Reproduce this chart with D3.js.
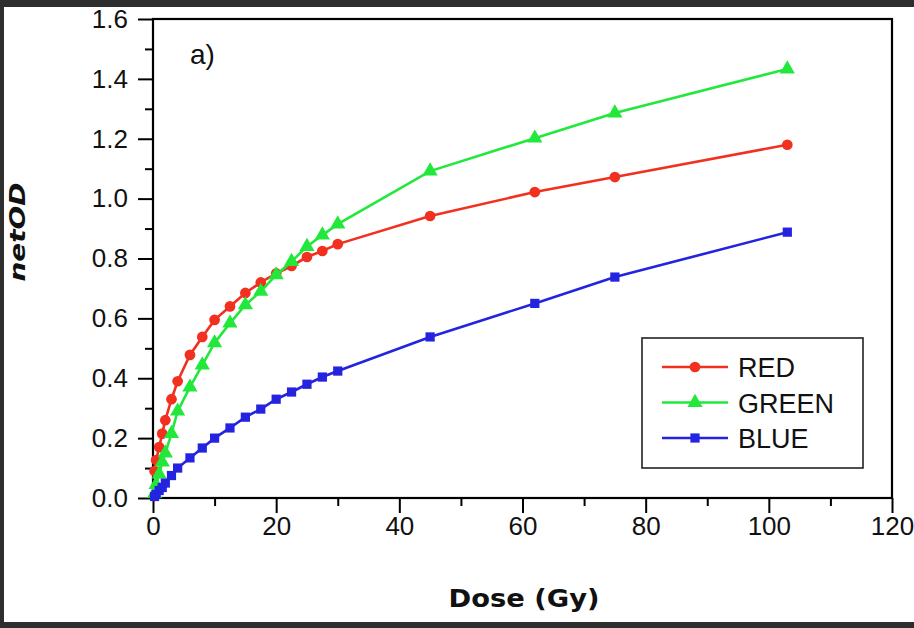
<!DOCTYPE html>
<html>
<head>
<meta charset="utf-8">
<script src="https://cdn.jsdelivr.net/npm/d3@7"></script>
<style>
  body { margin: 0; background: #2e2e2e; }
  svg { display: block; }
</style>
</head>
<body>
<svg id="chart1"></svg>
<script>
// dose values shared by the three channels
let doses = [0.25, 0.5, 1, 1.5, 2, 3, 4, 6, 8, 10, 12.5, 15, 17.5, 20, 22.5, 25, 27.5, 30, 45, 62, 75, 103];

let redValues = [0.09, 0.127, 0.17, 0.215, 0.26, 0.33, 0.39, 0.478, 0.538, 0.595, 0.64, 0.685, 0.72, 0.75, 0.775, 0.805, 0.825, 0.848, 0.942, 1.022, 1.072, 1.18];
let greenValues = [0.015, 0.045, 0.08, 0.12, 0.15, 0.215, 0.29, 0.37, 0.444, 0.518, 0.584, 0.645, 0.69, 0.745, 0.79, 0.84, 0.878, 0.915, 1.092, 1.202, 1.286, 1.433];
let blueValues = [0.005, 0.012, 0.025, 0.035, 0.05, 0.075, 0.1, 0.134, 0.167, 0.2, 0.234, 0.27, 0.297, 0.33, 0.354, 0.38, 0.404, 0.424, 0.538, 0.65, 0.738, 0.888];

let seriesNames = ['RED', 'GREEN', 'BLUE'];
let xTicks = [0, 20, 40, 60, 80, 100, 120];
let yTicks = [0.0, 0.2, 0.4, 0.6, 0.8, 1.0, 1.2, 1.4, 1.6];

function makeChart(series) {
  let w = 914;
  let h = 628;

  let svg = d3.select('#chart1')
    .attr('width', w)
    .attr('height', h);

  // white page area inside the dark frame
  svg.append('rect')
    .attr('x', 4)
    .attr('y', 7)
    .attr('width', w - 4)
    .attr('height', 615)
    .attr('fill', '#ffffff');

  let xScale = d3.scaleLinear()
    .domain([0, 120])
    .range([153, 892]);

  let yScale = d3.scaleLinear()
    .domain([0, 1.6])
    .range([498, 19]);

  let font = '"Liberation Sans", Arial, sans-serif';

  // minor ticks
  svg.append('g')
    .attr('transform', 'translate(0, 498)')
    .call(d3.axisBottom(xScale).tickValues(d3.range(10, 120, 20)).tickSize(8).tickFormat(''))
    .call((g) => g.select('.domain').remove())
    .selectAll('line').attr('stroke', '#000').attr('stroke-width', 2);

  svg.append('g')
    .attr('transform', 'translate(153, 0)')
    .call(d3.axisLeft(yScale).tickValues(d3.range(0.1, 1.6, 0.2)).tickSize(8).tickFormat(''))
    .call((g) => g.select('.domain').remove())
    .selectAll('line').attr('stroke', '#000').attr('stroke-width', 2);

  // major axes
  let xAxis = svg.append('g')
    .attr('transform', 'translate(0, 498)')
    .call(d3.axisBottom(xScale).tickValues(xTicks).tickSize(15).tickSizeOuter(0).tickPadding(4));

  let yAxis = svg.append('g')
    .attr('transform', 'translate(153, 0)')
    .call(d3.axisLeft(yScale).tickValues(yTicks).tickSize(15).tickSizeOuter(0).tickPadding(10)
      .tickFormat(d3.format('.1f')));

  [xAxis, yAxis].forEach((g) => {
    g.select('.domain').remove();
    g.selectAll('line').attr('stroke', '#000').attr('stroke-width', 2);
    g.selectAll('text')
      .attr('fill', '#111')
      .style('font-family', font)
      .style('font-size', '26px');
  });

  // frame
  svg.append('rect')
    .attr('x', xScale(0))
    .attr('y', yScale(1.6))
    .attr('width', xScale(120) - xScale(0))
    .attr('height', yScale(0) - yScale(1.6))
    .attr('fill', 'none')
    .attr('stroke', '#000')
    .attr('stroke-width', 2.2);

  let line = d3.line()
    .x((d) => xScale(d.dose))
    .y((d) => yScale(d.value));

  series.forEach((s) => {
    let pts = doses.map((d, i) => ({ dose: d, value: s.values[i] }));

    svg.append('path')
      .datum(pts)
      .attr('d', line)
      .attr('fill', 'none')
      .attr('stroke', s.color)
      .attr('stroke-width', 2.6);

    svg.append('g')
      .selectAll('path')
      .data(pts)
      .enter()
      .append('path')
      .attr('d', d3.symbol().type(s.symbol).size(s.size))
      .attr('transform', (d) => `translate(${xScale(d.dose)}, ${yScale(d.value)})`)
      .attr('fill', s.color);
  });

  // LEGEND
  let legend = svg.append('g');
  legend.append('rect')
    .attr('x', 642)
    .attr('y', 338)
    .attr('width', 221)
    .attr('height', 130)
    .attr('fill', '#fff')
    .attr('stroke', '#222')
    .attr('stroke-width', 1.6);

  series.forEach((s, i) => {
    let y = 367 + i * 35.5;
    legend.append('line')
      .attr('x1', 662).attr('x2', 728)
      .attr('y1', y).attr('y2', y)
      .attr('stroke', s.color)
      .attr('stroke-width', 2.6);
    legend.append('path')
      .attr('d', d3.symbol().type(s.symbol).size(s.size))
      .attr('transform', `translate(695, ${y})`)
      .attr('fill', s.color);
    legend.append('text')
      .attr('x', 738)
      .attr('y', y + 10)
      .attr('fill', '#111')
      .style('font-family', font)
      .style('font-size', '27px')
      .text(s.name);
  });

  // panel label
  svg.append('text')
    .attr('x', 190)
    .attr('y', 64)
    .attr('fill', '#111')
    .style('font-family', font)
    .style('font-size', '28px')
    .text('a)');

  // axis titles
  svg.append('text')
    .attr('x', 524)
    .attr('y', 607)
    .attr('text-anchor', 'middle')
    .attr('textLength', 151)
    .attr('lengthAdjust', 'spacingAndGlyphs')
    .attr('fill', '#111')
    .style('font-family', '"DejaVu Sans", sans-serif')
    .style('font-weight', 'bold')
    .style('font-size', '25px')
    .text('Dose (Gy)');

  svg.append('text')
    .attr('transform', 'translate(25, 232) rotate(-90)')
    .attr('text-anchor', 'middle')
    .attr('textLength', 99)
    .attr('lengthAdjust', 'spacingAndGlyphs')
    .attr('fill', '#111')
    .style('font-family', '"DejaVu Sans", sans-serif')
    .style('font-weight', 'bold')
    .style('font-style', 'italic')
    .style('font-size', '21px')
    .text('netOD');
}

makeChart([
  { name: seriesNames[0], values: redValues, color: '#f2301f', symbol: d3.symbolCircle, size: 90 },
  { name: seriesNames[1], values: greenValues, color: '#22e83c', symbol: d3.symbolTriangle, size: 100 },
  { name: seriesNames[2], values: blueValues, color: '#2323e0', symbol: d3.symbolSquare, size: 85 }
]);
</script>
</body>
</html>
